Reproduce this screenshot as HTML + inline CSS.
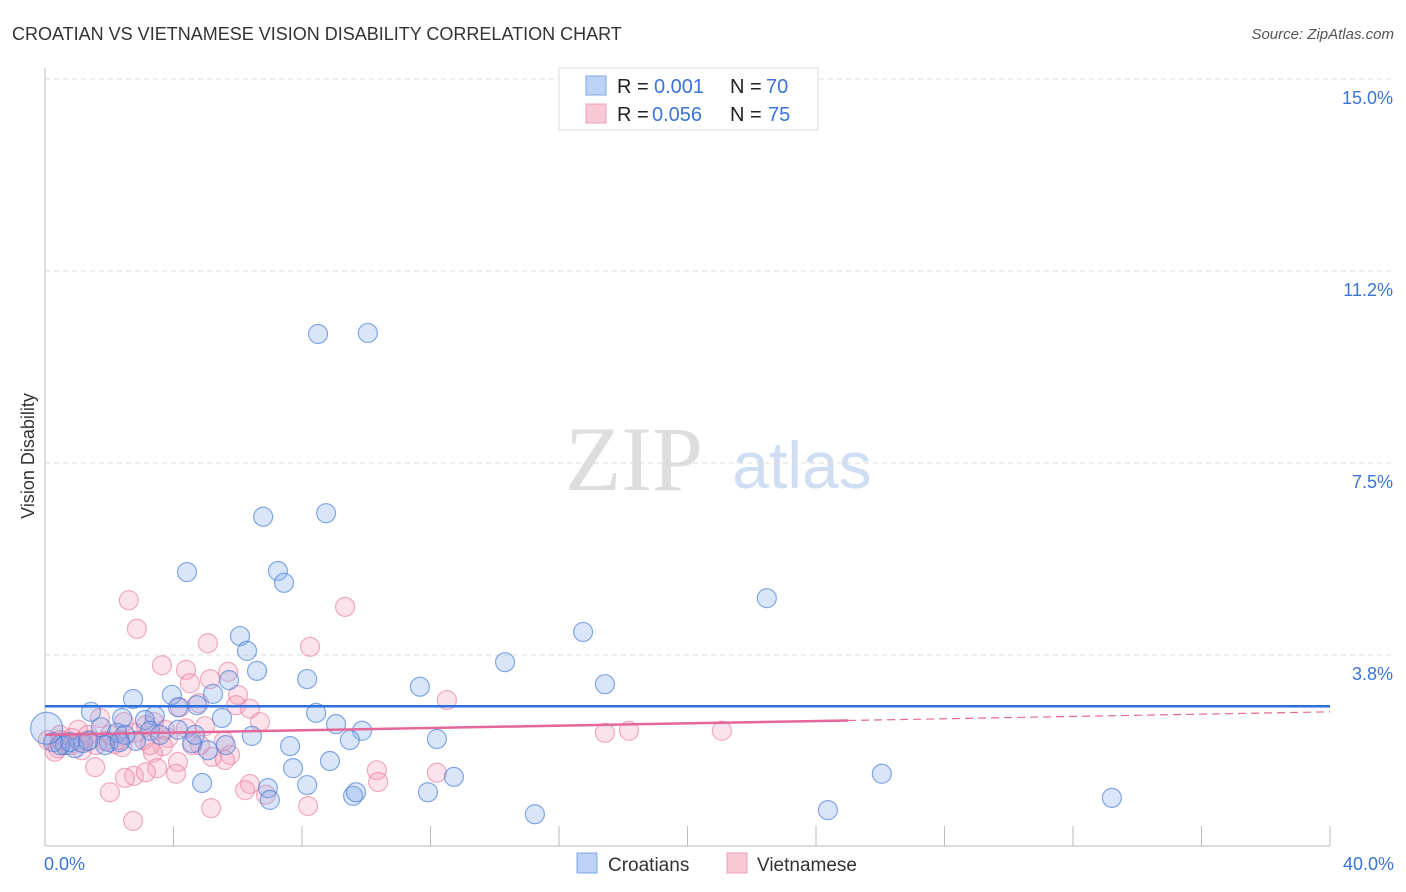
<!DOCTYPE html>
<html><head><meta charset="utf-8"><style>
body{margin:0;background:#fff;font-family:"Liberation Sans",sans-serif;}
#wrap{position:relative;width:1406px;height:892px;overflow:hidden;}
</style></head><body>
<div id="wrap">
<svg id="svg" width="1406" height="892" xmlns="http://www.w3.org/2000/svg">
<text x="12" y="40" font-size="18" fill="#333">CROATIAN VS VIETNAMESE VISION DISABILITY CORRELATION CHART</text>
<text x="1394" y="39" font-size="15" fill="#555" font-style="italic" text-anchor="end">Source: ZipAtlas.com</text>
<text x="634" y="490" font-size="92" fill="#ddd" font-family="Liberation Serif,serif" text-anchor="middle">ZIP</text>
<text x="802" y="488" font-size="66" fill="#d0def3" text-anchor="middle">atlas</text>
<text x="34" y="456" font-size="18" fill="#333" text-anchor="middle" transform="rotate(-90 34 456)">Vision Disability</text>
<g id="grid"></g><g id="axes"></g><g id="pts"></g><g id="trend"></g>
<g>
<rect x="559" y="68" width="259" height="62" fill="#fff" stroke="#ddd"/>
<rect x="586" y="76" width="20" height="19" fill="#bcd3f5" stroke="#7fa7e6"/>
<rect x="586" y="104" width="20" height="19" fill="#f9c8d6" stroke="#eda0b8"/>
<text x="617" y="93" font-size="20" fill="#222">R = </text><text x="654" y="93" font-size="20" fill="#3a74d6">0.001</text>
<text x="730" y="93" font-size="20" fill="#222">N = </text><text x="766" y="93" font-size="20" fill="#3a74d6">70</text>
<text x="617" y="121" font-size="20" fill="#222">R = </text><text x="652" y="121" font-size="20" fill="#3a74d6">0.056</text>
<text x="730" y="121" font-size="20" fill="#222">N = </text><text x="768" y="121" font-size="20" fill="#3a74d6">75</text>
</g>
<g>
<rect x="577" y="853" width="20" height="20" fill="#bcd3f5" stroke="#7fa7e6"/>
<text x="608" y="871" font-size="19" fill="#333">Croatians</text>
<rect x="727" y="853" width="20" height="20" fill="#f9c8d6" stroke="#eda0b8"/>
<text x="757" y="871" font-size="19" fill="#333">Vietnamese</text>
</g>
</svg>
</div>
<script>
const yTicks=[15,11.25,7.5,3.75];
const yTickLabels=["15.0%","11.2%","7.5%","3.8%"];
const xTickVals=[0,4,8,12,16,20,24,28,32,36,40];
const xEndLabels=["0.0%","40.0%"];
const blueX=[8.50,10.05,6.79,8.75,4.42,7.25,7.44,22.47,6.07,6.29,16.75,14.32,6.60,17.43,11.67,8.16,2.74,3.95,5.23,5.73,4.14,4.73,1.43,2.40,3.42,8.44,5.51,9.06,3.11,9.87,1.74,2.24,3.27,4.14,6.44,12.20,7.63,4.58,1.99,2.83,5.07,1.87,0.62,0.93,1.18,8.87,7.72,26.05,12.73,4.89,8.16,6.94,9.59,11.92,9.68,7.00,15.25,24.37,33.21,0.47,0.78,1.34,2.49,3.58,4.67,5.63,9.49,0.25,2.33,0.05];
const blueY=[10.02,10.04,6.45,6.52,5.37,5.39,5.16,4.86,4.12,3.83,4.20,3.61,3.44,3.18,3.13,3.28,2.89,2.97,2.99,3.26,2.73,2.77,2.64,2.52,2.56,2.62,2.52,2.40,2.48,2.27,2.34,2.23,2.27,2.29,2.17,2.11,1.97,2.03,2.05,2.07,1.89,1.99,1.99,1.93,2.03,1.68,1.54,1.43,1.37,1.25,1.21,1.15,1.00,1.07,1.07,0.92,0.64,0.72,0.96,1.99,2.05,2.07,2.19,2.19,2.19,1.99,2.09,2.05,2.05,2.32];
const pinkX=[2.61,2.86,9.34,5.07,8.25,3.64,4.39,5.70,5.14,4.51,6.01,12.51,5.95,4.20,4.79,6.38,3.39,1.71,2.46,6.69,4.98,4.39,5.57,17.43,18.18,21.07,1.03,1.34,2.80,3.83,3.08,1.87,2.18,0.47,0.78,0.31,1.15,2.40,3.67,3.36,5.20,4.14,1.56,3.49,2.77,4.08,3.14,10.33,12.20,10.37,2.49,6.38,6.23,6.88,2.02,5.17,8.19,2.74,0.47,1.59,3.14,2.33,3.27,0.09,0.84,1.40,4.82,5.76,0.53,1.09,2.02,3.74,4.58,5.60,0.40];
const pinkY=[4.82,4.26,4.69,3.98,3.91,3.55,3.46,3.42,3.28,3.20,2.97,2.87,2.77,2.73,2.81,2.70,2.44,2.52,2.44,2.44,2.36,2.32,2.07,2.23,2.27,2.27,2.29,2.19,2.23,2.13,2.09,2.07,2.01,2.19,1.99,1.86,1.89,1.95,1.97,1.84,1.76,1.66,1.56,1.54,1.39,1.43,1.46,1.50,1.45,1.27,1.35,1.23,1.11,1.02,1.07,0.76,0.80,0.51,2.09,1.99,2.38,2.09,1.99,2.09,2.13,2.09,1.99,1.80,2.05,2.05,2.19,2.29,1.99,1.70,1.93];
const blueTrend=[2.75,2.75];
const pinkTrend=[2.19,2.64];
const pinkSolidEnd=25;

const X=v=>45+v*32.125, Y=v=>847-v*51.2;
const NS="http://www.w3.org/2000/svg";
function mk(tag,parent,attrs){const e=document.createElementNS(NS,tag);for(const k in attrs)e.setAttribute(k,attrs[k]);parent.appendChild(e);return e;}
const grid=document.getElementById('grid'),axes=document.getElementById('axes'),pts=document.getElementById('pts'),tr=document.getElementById('trend');
yTicks.forEach((t,i)=>{
 const l=mk('line',grid,{x1:45,x2:1393,y1:Y(t),y2:Y(t),stroke:'#ddd','stroke-dasharray':'5,4'});
 
 
 const tx=mk('text',grid,{x:1393,y:Y(t)+25,'font-size':18,fill:'#3a74d6','text-anchor':'end'});
 tx.textContent=yTickLabels[i];
 
 
});
const ax=mk('line',axes,{x1:45,x2:45,y1:68,y2:846,stroke:'#bbb'});


const bx=mk('line',axes,{x1:45,x2:1330,y1:846,y2:846,stroke:'#bbb'});


xTickVals.forEach(v=>{
 const t=mk('line',axes,{x1:X(v),x2:X(v),y1:826,y2:846,stroke:'#bbb'});
 
 
});
[[0,'start',44],[40,'end',1394]].forEach((a,i)=>{
 const t=mk('text',axes,{x:a[2],y:870,'font-size':18,fill:'#3a74d6','text-anchor':a[1]});
 t.textContent=xEndLabels[i];
 
 
});
function dots(xs,ys,fill,stroke,name){
 xs.forEach((x,i)=>{
  const c=mk('circle',pts,{cx:X(x),cy:Y(ys[i]),r:(x<0.1&&name==='croatian-point')?16:9.5,fill:fill,stroke:stroke,'stroke-width':1.2});
  
  
 });
}
dots(pinkX,pinkY,'rgba(244,160,185,0.3)','rgba(232,120,155,0.6)','vietnamese-point');
dots(blueX,blueY,'rgba(130,170,235,0.3)','rgba(70,125,215,0.65)','croatian-point');
const bl=mk('line',tr,{x1:X(0),x2:X(40),y1:Y(blueTrend[0]),y2:Y(blueTrend[1]),stroke:'#2f6fdc','stroke-width':2.5});


const pm=pinkTrend[0]+(pinkTrend[1]-pinkTrend[0])*pinkSolidEnd/40;
const pl=mk('line',tr,{x1:X(0),x2:X(pinkSolidEnd),y1:Y(pinkTrend[0]),y2:Y(pm),stroke:'#e4679a','stroke-width':2.5});


const pd=mk('line',tr,{x1:X(pinkSolidEnd),x2:X(40),y1:Y(pm),y2:Y(pinkTrend[1]),stroke:'#e4679a','stroke-width':1.2,'stroke-dasharray':'8,5'});


</script>
</body></html>
